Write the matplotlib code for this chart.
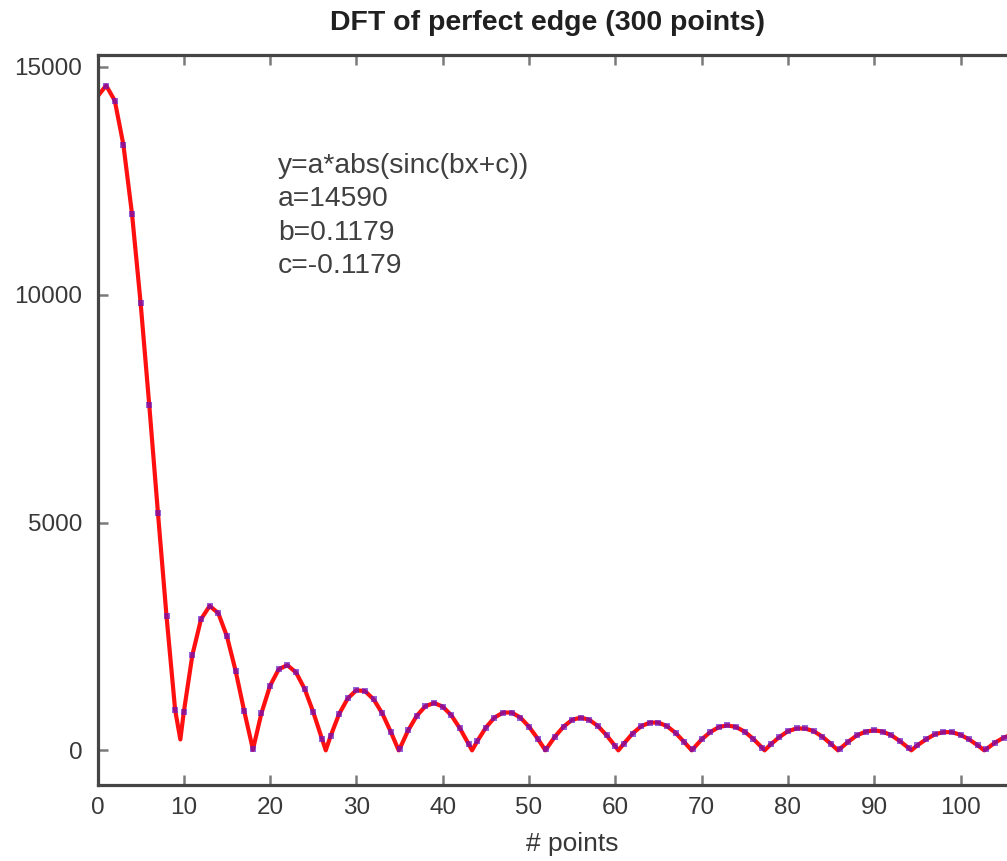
import matplotlib
matplotlib.use("Agg")
import matplotlib.pyplot as plt
import numpy as np

# ---- data ----
dot_x = list(range(1, 107))
dot_y = [14590, 14260, 13290, 11770, 9810, 7570, 5220, 2940, 880, 840,
         2100, 2880, 3170, 3010, 2500, 1750, 860, 30, 820, 1420,
         1780, 1870, 1710, 1350, 840, 260, 310, 800, 1140, 1320,
         1300, 1120, 810, 400, 30, 440, 760, 970, 1040, 960,
         770, 480, 140, 200, 500, 720, 830, 830, 720, 520,
         260, 30, 300, 520, 670, 720, 670, 530, 330, 90,
         150, 370, 530, 610, 610, 530, 380, 180, 30, 240,
         400, 510, 550, 510, 410, 250, 60, 130, 290, 420,
         480, 480, 420, 300, 140, 30, 190, 330, 410, 440,
         410, 330, 200, 50, 110, 240, 350, 400, 400, 340,
         240, 110, 30, 170, 280, 350]

# fitted curve: start value and the visible dips between samples
fit_start_x = [0]
fit_start_y = [14350]
dip_x = [9.6, 18.0, 26.45, 34.9, 43.4, 51.9, 60.35, 68.85, 77.3, 85.8, 94.3, 102.75]
dip_y = [240, 10, 0, 0, 0, 0, 0, 0, 0, 0, 0, 0]

title_text = "DFT of perfect edge (300 points)"
xlabel_text = "# points"
annot_lines = ["y=a*abs(sinc(bx+c))", "a=14590", "b=0.1179", "c=-0.1179"]
xticks = [0, 10, 20, 30, 40, 50, 60, 70, 80, 90, 100]
yticks = [0, 5000, 10000, 15000]

# ---- build fitted line from the read points ----
fx = np.array(fit_start_x + dot_x + dip_x, dtype=float)
fy = np.array(fit_start_y + dot_y + dip_y, dtype=float)
order = np.argsort(fx)
fx, fy = fx[order], fy[order]

W, H = 1007, 861
fig = plt.figure(figsize=(W / 100, H / 100), dpi=100)
fig.patch.set_facecolor("white")

left_px, right_px_at110 = 97.5, 97.5 + 110 * 8.63
top_px, bot_px = 55, 785
ax = fig.add_axes([left_px / W, 1 - bot_px / H,
                   (right_px_at110 - left_px) / W, (bot_px - top_px) / H])
ax.set_xlim(0, 110)
ax.set_ylim(-760, 15260)

ax.plot(fx, fy, color="#ff1010", lw=3.0, zorder=2, solid_joinstyle="round")
ax.plot(dot_x, dot_y, linestyle="none", marker="s", markersize=4.4,
        markeredgewidth=0, color="#6010c8", alpha=0.65, zorder=3)

spine_col = "#454545"
for s in ax.spines.values():
    s.set_color(spine_col)
    s.set_linewidth(2.3)

fam = ["Liberation Sans", "DejaVu Sans"]
ax.set_xticks(xticks)
ax.set_yticks(yticks)
ax.set_xticklabels([str(t) for t in xticks], fontsize=17.5, color="#383838", family=fam)
ax.set_yticklabels([str(t) for t in yticks], fontsize=17.5, color="#383838", family=fam)
ax.tick_params(direction="in", length=7, width=1.8, color="#7a7a7a",
               top=True, right=True)
ax.tick_params(axis="y", pad=11)
ax.tick_params(axis="x", pad=9)

ax.set_xlabel(xlabel_text, fontsize=19, color="#383838", labelpad=9, family=fam)
fig.text(547 / W, 1 - 23 / H, title_text, fontsize=20.5, fontweight="bold",
         color="#202020", family=fam, ha="center", va="center")

for i, line in enumerate(annot_lines):
    fig.text(278 / W, 1 - (166 + 33.3 * i) / H, line, fontsize=20.3,
             color="#404040", va="center", ha="left", family=fam)

fig.savefig("out.png", dpi=100)
